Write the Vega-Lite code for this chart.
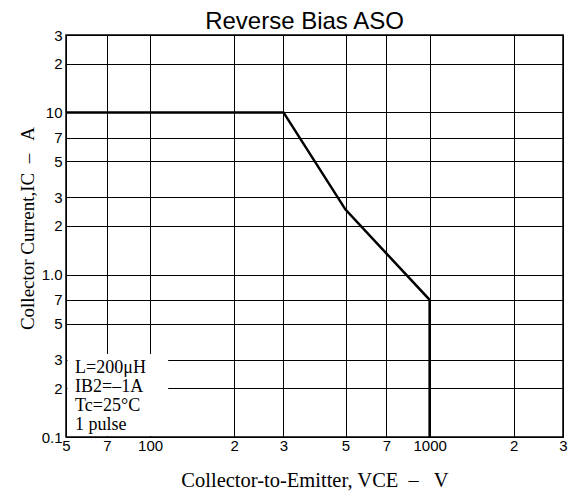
{
  "$schema": "https://vega.github.io/schema/vega-lite/v6.json",
  "width": 497,
  "height": 402,
  "autosize": "none",
  "padding": {"left": 66, "top": 35, "right": 7, "bottom": 58},
  "background": "white",
  "title": {"text": "Reverse Bias ASO", "font": "Liberation Sans", "fontSize": 24, "fontWeight": "normal", "color": "black", "baseline": "alphabetic", "frame": "group", "offset": 5, "dx": -10, "dy": 30},
  "config": {
    "view": {"stroke": "black", "strokeWidth": 1.5},
    "axis": {"grid": true, "gridColor": "black", "gridOpacity": 1, "gridWidth": 1, "ticks": false, "domain": false, "labelFont": "Liberation Sans", "labelFontSize": 15, "labelColor": "black", "labelFlush": false, "labelOverlap": false, "titleFont": "Liberation Serif", "titleFontSize": 19, "titleFontWeight": "normal", "titleColor": "black"}
  },
  "layer": [
    {
      "data": {"values": [{}]},
      "mark": {"type": "rect", "fill": "white", "stroke": null},
      "encoding": {
        "x": {"datum": 50.6, "type": "quantitative"},
        "x2": {"datum": 116},
        "y": {"datum": 0.1015, "type": "quantitative"},
        "y2": {"datum": 0.325}
      }
    },
    {
      "data": {"values": [
        {"pt": 1, "vce": 50, "ic": 10},
        {"pt": 2, "vce": 300, "ic": 10},
        {"pt": 3, "vce": 500, "ic": 2.52},
        {"pt": 4, "vce": 1000, "ic": 0.7},
        {"pt": 5, "vce": 1000, "ic": 0.1}
      ]},
      "mark": {"type": "line", "color": "black", "strokeWidth": 2.5},
      "encoding": {
        "x": {"field": "vce", "type": "quantitative", "scale": {"type": "log", "domain": [50, 3000], "nice": false},
          "axis": {"values": [50, 70, 100, 200, 300, 500, 700, 1000, 2000, 3000], "labelPadding": 1,
            "labelExpr": "datum.value == 100 ? '100' : datum.value == 1000 ? '1000' : format(datum.value / pow(10, floor(log(datum.value) / LN10 + 1e-9)), 'd')",
            "title": "Collector-to-Emitter, VCE\u00a0\u00a0–\u00a0\u00a0 V", "titleFontSize": 20.5, "titleBaseline": "alphabetic", "titleY": 49}},
        "y": {"field": "ic", "type": "quantitative", "scale": {"type": "log", "domain": [0.1, 30], "nice": false},
          "axis": {"values": [0.1, 0.2, 0.3, 0.5, 0.7, 1, 2, 3, 5, 7, 10, 20, 30], "labelPadding": 4,
            "labelExpr": "datum.value == 0.1 ? '0.1' : datum.value == 1 ? '1.0' : datum.value == 10 ? '10' : format(datum.value / pow(10, floor(log(datum.value) / LN10 + 1e-9)), 'd')",
            "title": "Collector Current,IC\u00a0\u00a0–\u00a0\u00a0 A", "titleBaseline": "alphabetic", "titleX": -33, "titleY": 193}},
        "order": {"field": "pt", "type": "quantitative"}
      }
    },
    {
      "data": {"values": [{}]},
      "mark": {"type": "text", "text": ["L=200μH", "IB2=–1A", "Tc=25°C", "1 pulse"], "font": "Liberation Serif", "fontSize": 18, "lineHeight": 19, "align": "left", "baseline": "alphabetic", "color": "black"},
      "encoding": {
        "x": {"datum": 53.9, "type": "quantitative"},
        "y": {"datum": 0.248, "type": "quantitative"}
      }
    }
  ]
}
